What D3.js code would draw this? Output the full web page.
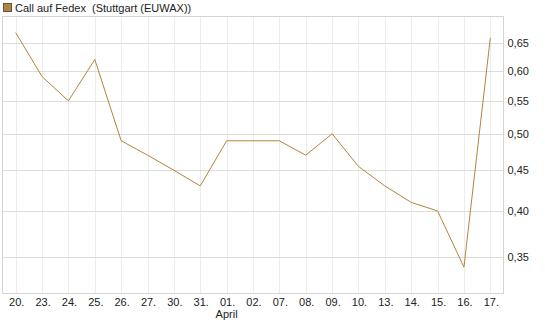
<!DOCTYPE html>
<html>
<head>
<meta charset="utf-8">
<script src="https://cdn.jsdelivr.net/npm/d3@7"></script>
<style>
  body { margin: 0; background: #fff; }
  text { font-family: "Liberation Sans", Arial, sans-serif; }
</style>
</head>
<body>
<div id="chart-area"></div>
<script>
var labels = ['20.','23.','24.','25.','26.','27.','30.','31.','01.','02.','07.','08.','09.','10.','13.','14.','15.','16.','17.'];
var prices = [0.67,0.59,0.55,0.62,0.49,0.47,0.45,0.43,0.49,0.49,0.49,0.47,0.50,0.455,0.43,0.41,0.40,0.34,0.66];
var yTicks = [0.35,0.40,0.45,0.50,0.55,0.60,0.65];
var title = 'Call auf Fedex  (Stuttgart (EUWAX))';
var monthLabel = { index: 8, text: 'April' };

var W = 545, H = 327;
var plot = { left: 2.5, right: 503.5, top: 16.5, bottom: 293.5 };
var lineColor = '#b5843a';

var svg = d3.select('#chart-area').append('svg')
    .attr('width', W)
    .attr('height', H);

//x scale
var x = d3.scalePoint()
    .domain(labels)
    .range([plot.left, plot.right])
    .padding(0.5);

//y scale (log)
var y = d3.scaleLog()
    .domain([0.315, 0.702])
    .range([plot.bottom, plot.top]);

//vertical grid
svg.append('g')
  .selectAll('line')
  .data(labels)
  .enter().append('line')
    .attr('x1', function(d){ return Math.round(x(d)) + 0.5 })
    .attr('x2', function(d){ return Math.round(x(d)) + 0.5 })
    .attr('y1', plot.top)
    .attr('y2', plot.bottom)
    .attr('stroke', '#ececec');

//horizontal grid
svg.append('g')
  .selectAll('line')
  .data(yTicks)
  .enter().append('line')
    .attr('x1', plot.left)
    .attr('x2', plot.right)
    .attr('y1', function(d){ return Math.round(y(d)) + 0.5 })
    .attr('y2', function(d){ return Math.round(y(d)) + 0.5 })
    .attr('stroke', '#dcdcdc');

//frame
svg.append('rect')
  .attr('x', plot.left)
  .attr('y', plot.top)
  .attr('width', plot.right - plot.left)
  .attr('height', plot.bottom - plot.top)
  .attr('fill', 'none')
  .attr('stroke', '#d4d4d4');

//y labels
svg.append('g')
  .selectAll('text')
  .data(yTicks)
  .enter().append('text')
    .attr('x', plot.right + 4)
    .attr('y', function(d){ return y(d) + 4 })
    .attr('font-size', '11px')
    .attr('fill', '#222')
    .text(function(d){ return d3.format('.2f')(d).replace('.', ',') });

//x labels
svg.append('g')
  .selectAll('text')
  .data(labels)
  .enter().append('text')
    .attr('x', function(d){ return x(d) + 1 })
    .attr('y', 306)
    .attr('text-anchor', 'middle')
    .attr('font-size', '11px')
    .attr('fill', '#222')
    .text(function(d){ return d });

svg.append('text')
  .attr('x', x(labels[monthLabel.index]))
  .attr('y', 318)
  .attr('text-anchor', 'middle')
  .attr('font-size', '11px')
  .attr('fill', '#222')
  .text(monthLabel.text);

//line
var line = d3.line()
  .x(function(d, i){ return x(labels[i]) })
  .y(function(d){ return y(d) });

svg.append('path')
  .datum(prices)
  .attr('d', line)
  .attr('fill', 'none')
  .attr('stroke', lineColor)
  .attr('stroke-width', 1);

//legend
svg.append('rect')
  .attr('x', 3.5)
  .attr('y', 3.5)
  .attr('width', 8)
  .attr('height', 8)
  .attr('fill', lineColor)
  .attr('stroke', '#555');

svg.append('text')
  .attr('x', 15)
  .attr('y', 12)
  .attr('font-size', '11px')
  .attr('fill', '#222')
  .style('white-space', 'pre')
  .text(title);
</script>
</body>
</html>
